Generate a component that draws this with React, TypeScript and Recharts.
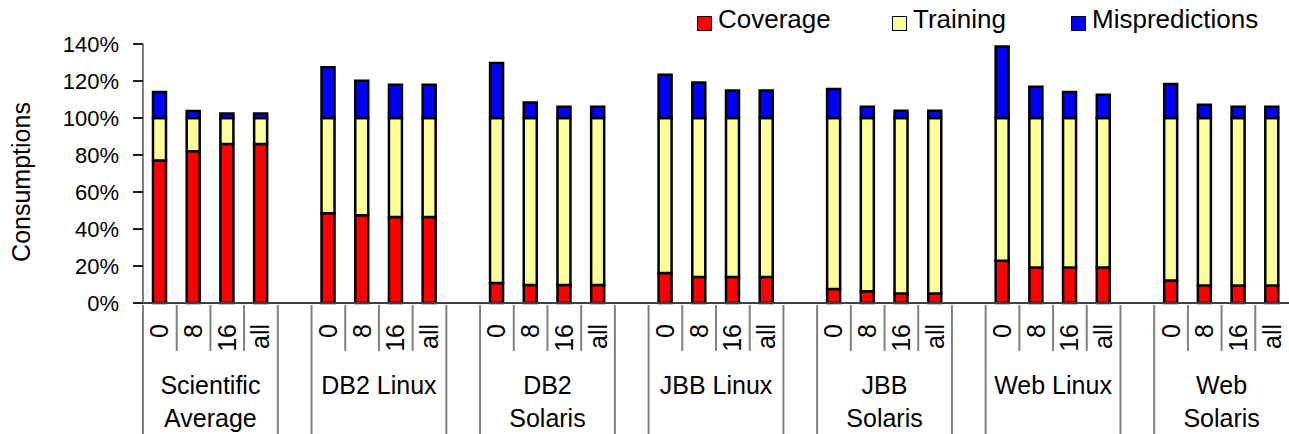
import React from "react";
import { BarChart, Bar, XAxis, YAxis } from "recharts";

const GROUPS = [
    ["Scientific", "Average"],
    ["DB2 Linux"],
    ["DB2", "Solaris"],
    ["JBB Linux"],
    ["JBB", "Solaris"],
    ["Web Linux"],
    ["Web", "Solaris"],
];
const CONFIGS = ["0", "8", "16", "all"];

// values per group, one per config (0, 8, 16, all), in %
const COVERAGE = [
    [77, 82, 86, 86],
    [48.5, 47.4, 46.5, 46.5],
    [10.8, 9.7, 9.7, 9.7],
    [16.2, 14, 14, 14],
    [7.6, 6.3, 5.2, 5.2],
    [22.9, 19.2, 19.2, 19.2],
    [12.1, 9.5, 9.5, 9.5],
];
const TRAINING = [
    [23, 18, 14, 14],
    [51.5, 52.6, 53.5, 53.5],
    [89.2, 90.3, 90.3, 90.3],
    [83.8, 86, 86, 86],
    [92.4, 93.7, 94.8, 94.8],
    [77.1, 80.8, 80.8, 80.8],
    [87.9, 90.5, 90.5, 90.5],
];
const MISPREDICTIONS = [
    [14, 3.8, 2.5, 2.5],
    [27.4, 20.2, 18, 18],
    [29.7, 8.4, 6.1, 6.1],
    [23.4, 19.2, 14.8, 14.8],
    [15.7, 6.1, 3.9, 3.9],
    [38.7, 16.9, 14.1, 12.6],
    [18.4, 7.2, 6.1, 6.1],
];
const Y_TICKS = [0, 20, 40, 60, 80, 100, 120, 140];

const COLORS = { coverage: "#FF0000", training: "#FFFF99", mispredictions: "#0000FF" };
const FONT = "'Liberation Sans', Arial, sans-serif";

const CHART_W = 1289;
const CHART_H = 434;
const Y_AXIS_W = 143;
const TOP = 44;
const X_AXIS_H = 131;

// 4 bars per group plus an empty slot between groups
const rows: any[] = [];
GROUPS.forEach((_, g) => {
    CONFIGS.forEach((c, i) => {
        rows.push({
            slot: `g${g}-${c}`,
            coverage: COVERAGE[g][i],
            training: TRAINING[g][i],
            mispredictions: MISPREDICTIONS[g][i],
        });
    });
    if (g < GROUPS.length - 1) rows.push({ slot: `gap${g}` });
});

const SLOT_W = (CHART_W - Y_AXIS_W) / rows.length;

function CategoryTick(props: any) {
    const { x, y, index } = props;
    const pos = index % 5;
    const g = Math.floor(index / 5);
    const left = x - SLOT_W / 2;
    const long = pos === 0 || pos === 4;
    return (
        <g>
            <line x1={left} x2={left} y1={y} y2={long ? y + X_AXIS_H : y + 46} stroke="#808080" strokeWidth={2} />
            {pos < 4 && (
                <text
                    transform={`translate(${x + 8.5},${y + 19}) rotate(-90)`}
                    textAnchor="end"
                    fontSize={25}
                    fontFamily={FONT}
                    fill="#000"
                >
                    {CONFIGS[pos]}
                </text>
            )}
            {pos === 0 &&
                GROUPS[g].map((line, k) => (
                    <text
                        key={k}
                        x={x + 1.5 * SLOT_W}
                        y={y + 89 + k * 33}
                        textAnchor="middle"
                        fontSize={25}
                        fontFamily={FONT}
                        fill="#000"
                    >
                        {line}
                    </text>
                ))}
        </g>
    );
}

function YLabel() {
    return (
        <text transform="translate(30,182) rotate(-90)" textAnchor="middle" fontSize={25} fontFamily={FONT} fill="#000">
            Consumptions
        </text>
    );
}

const LEGEND = [
    { name: "Coverage", color: COLORS.coverage, left: 697 },
    { name: "Training", color: COLORS.training, left: 892 },
    { name: "Mispredictions", color: COLORS.mispredictions, left: 1071 },
];

export default function App() {
    return (
        <div style={{ position: "relative", width: CHART_W, height: CHART_H, background: "#fff" }}>
            <style>{`body{margin:0}`}</style>
            <BarChart
                width={CHART_W}
                height={CHART_H}
                data={rows}
                margin={{ top: TOP, right: 0, left: 0, bottom: 0 }}
                barSize={13}
            >
                <XAxis
                    dataKey="slot"
                    interval={0}
                    height={X_AXIS_H}
                    tickLine={false}
                    tickSize={0}
                    tick={<CategoryTick />}
                    axisLine={{ stroke: "#404040", strokeWidth: 2 }}
                />
                <YAxis
                    width={Y_AXIS_W}
                    domain={[0, 140]}
                    ticks={Y_TICKS}
                    tickFormatter={(v: number) => `${v}%`}
                    tick={{ fontSize: 22, fontFamily: FONT, fill: "#000" }}
                    tickSize={10}
                    tickMargin={14}
                    tickLine={{ stroke: "#202020", strokeWidth: 2 }}
                    axisLine={{ stroke: "#808080", strokeWidth: 2 }}
                    label={<YLabel />}
                />
                <Bar dataKey="coverage" stackId="a" fill={COLORS.coverage} stroke="#000" strokeWidth={2.5} isAnimationActive={false} />
                <Bar dataKey="training" stackId="a" fill={COLORS.training} stroke="#000" strokeWidth={2.5} isAnimationActive={false} />
                <Bar dataKey="mispredictions" stackId="a" fill={COLORS.mispredictions} stroke="#000" strokeWidth={2.5} isAnimationActive={false} />
            </BarChart>
            {LEGEND.map((item) => (
                <div
                    key={item.name}
                    style={{
                        position: "absolute",
                        left: item.left,
                        top: 6,
                        display: "flex",
                        alignItems: "center",
                        fontFamily: FONT,
                        fontSize: 26,
                        lineHeight: "26px",
                        color: "#000",
                    }}
                >
                    <span
                        style={{
                            display: "inline-block",
                            width: 13,
                            height: 13,
                            background: item.color,
                            border: "1.5px solid #000",
                            marginRight: 6,
                            marginTop: 8,
                        }}
                    />
                    <span>{item.name}</span>
                </div>
            ))}
        </div>
    );
}
